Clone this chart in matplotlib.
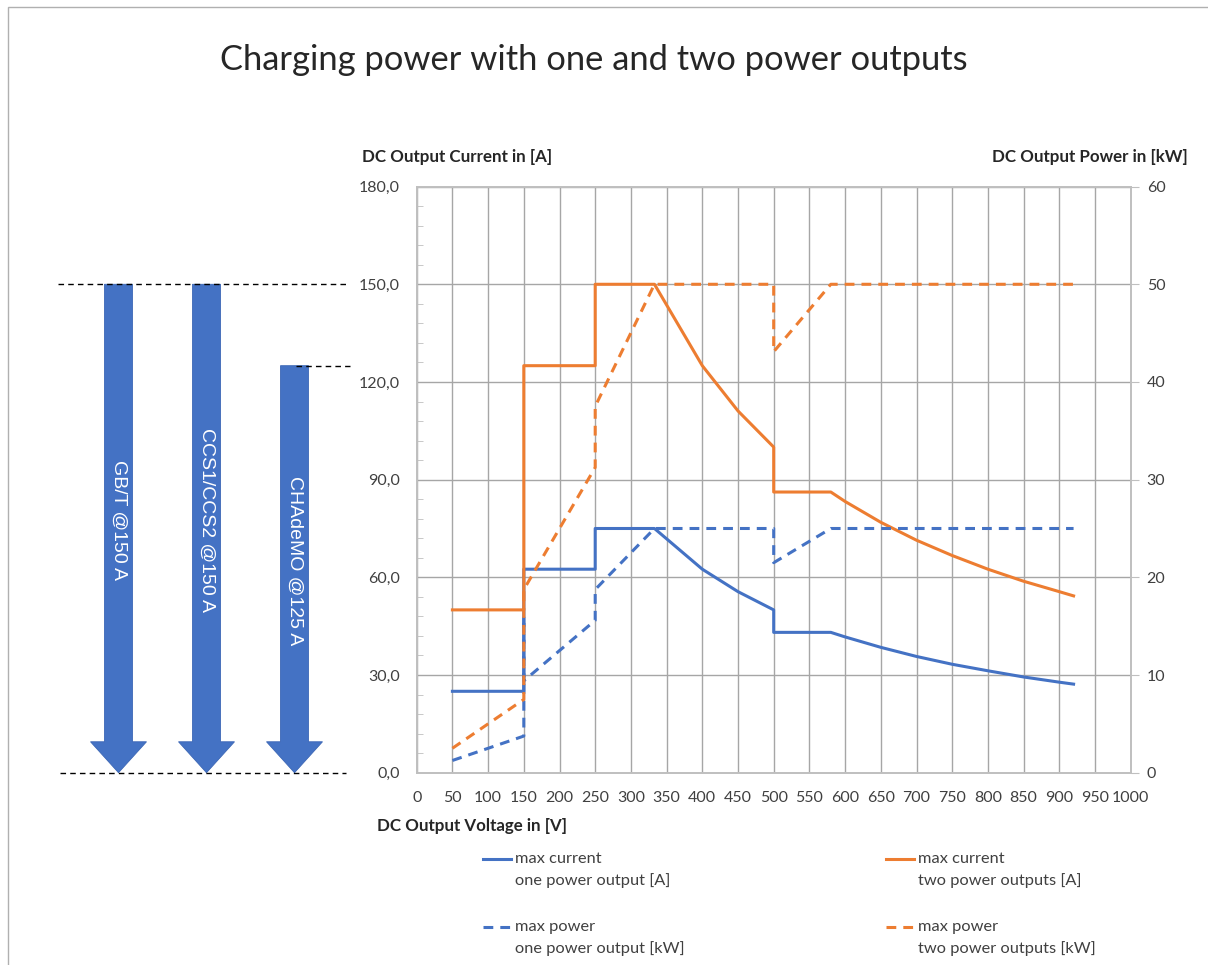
import numpy as np
import matplotlib
matplotlib.use('Agg')
import matplotlib.pyplot as plt
from matplotlib import transforms
from matplotlib.patches import Polygon, Rectangle
from matplotlib.lines import Line2D

plt.rcParams['font.family'] = ['Lato', 'DejaVu Sans']

# ---- data ----
# max current, one power output [A]
v_cur = [50, 150, 150, 250, 250, 333, 400, 450, 500, 500, 580, 600, 650, 700, 750, 800, 850, 900, 920]
i_one = [25, 25, 62.5, 62.5, 75, 75, 62.5, 55.6, 50, 43.1, 43.1, 41.7, 38.5, 35.7, 33.3, 31.3, 29.4, 27.8, 27.2]
# max current, two power outputs [A]
i_two = [50, 50, 125, 125, 150, 150, 125, 111.1, 100, 86.2, 86.2, 83.3, 76.9, 71.4, 66.7, 62.5, 58.8, 55.6, 54.3]

# max power, one power output [kW]
v_p_one = [50, 150, 150, 150, 250, 250, 333, 500, 500, 580, 920]
p_one = [1.25, 3.75, 16.0, 9.4, 15.6, 18.75, 25, 25, 21.5, 25, 25]
# max power, two power outputs [kW]
v_p_two = [50, 150, 150, 250, 250, 333, 500, 500, 580, 920]
p_two = [2.5, 7.5, 18.75, 31.25, 37.5, 50, 50, 43.1, 50, 50]

x_ticks = list(range(0, 1001, 50))
y_left_ticks = [0, 30, 60, 90, 120, 150, 180]
y_right_ticks = [0, 10, 20, 30, 40, 50, 60]

# connector standards (arrows on the left)
plugs = ['GB/T @150 A', 'CCS1/CCS2 @150 A', 'CHAdeMO @125 A']
plug_current = [150, 150, 125]

blue = '#4472C4'
orange = '#ED7D31'
txt = '#404040'

W, H = 1208, 965
def fx(x):
    return x / W
def fy(y):
    return 1 - y / H

fig = plt.figure(figsize=(W / 100, H / 100), dpi=100)

# chart border (only top/left visible)
fig.add_artist(Rectangle((fx(8), -0.05), 1.2, fy(7) + 0.05, transform=fig.transFigure,
                         fill=False, edgecolor='#b0b0b0', lw=1))

ax = fig.add_axes([fx(416.7), fy(772.7), (1130.7 - 416.7) / W, (772.7 - 186.6) / H])
ax2 = ax.twinx()

dash = (0, (3.2, 2.3))
ax.plot(v_cur, i_one, color=blue, lw=2.2, zorder=3)
ax.plot(v_cur, i_two, color=orange, lw=2.2, zorder=3)
ax2.plot(v_p_one, p_one, color=blue, lw=2.2, ls=dash)
ax2.plot(v_p_two, p_two, color=orange, lw=2.2, ls=dash)

ax.set_xlim(0, 1000)
ax.set_ylim(0, 180)
ax2.set_ylim(0, 60)

ax.set_xticks(x_ticks)
ax.set_xticklabels([str(v) for v in x_ticks])
ax.set_yticks(y_left_ticks)
ax.set_yticklabels([('%.1f' % v).replace('.', ',') for v in y_left_ticks])
ax.set_yticks(np.arange(0, 181, 6), minor=True)
ax2.set_yticks(y_right_ticks)
ax2.set_yticklabels([str(v) for v in y_right_ticks])

ax.grid(True, which='major', color='#a6a6a6', lw=1)
ax.set_axisbelow(True)
ax.tick_params(axis='x', length=0, pad=13, labelsize=11.5, labelcolor=txt)
ax.tick_params(axis='y', which='major', length=0, pad=12, labelsize=11.5, labelcolor=txt)
ax.tick_params(axis='y', which='minor', direction='in', length=4, color='#bfbfbf')
ax2.tick_params(axis='y', length=5.5, color='#bfbfbf', pad=6, labelsize=11.5, labelcolor=txt)
for a in (ax, ax2):
    for s in a.spines.values():
        s.set_color('#bfbfbf')
        s.set_linewidth(1.2)

# titles
fig.text(fx(594), fy(60), 'Charging power with one and two power outputs',
         ha='center', va='center', fontsize=24.8, color='#262626')
fig.text(fx(362), fy(157), 'DC Output Current in [A]', ha='left', va='center',
         fontsize=12.2, fontweight='bold', color='#262626')
fig.text(fx(1188), fy(157), 'DC Output Power in [kW]', ha='right', va='center',
         fontsize=12.2, fontweight='bold', color='#262626')
fig.text(fx(377), fy(826), 'DC Output Voltage in [V]', ha='left', va='center',
         fontsize=12.2, fontweight='bold', color='#262626')

# arrows for the plug standards
tr = transforms.blended_transform_factory(fig.transFigure, ax.transData)
head_a = 9.5
for k, (name, top) in enumerate(zip(plugs, plug_current)):
    cx = 118.5 + 88 * k
    l, r = fx(cx - 14), fx(cx + 14)
    hl, hr = fx(cx - 28), fx(cx + 28)
    pts = [(l, top), (r, top), (r, head_a), (hr, head_a), (fx(cx), 0), (hl, head_a), (l, head_a)]
    fig.add_artist(Polygon(pts, closed=True, transform=tr, facecolor=blue,
                           edgecolor='#3b66b5', lw=0.6))
    fig.text(fx(cx), (top + head_a) / 2 - 2, name, transform=tr, rotation=270,
             ha='center', va='center', color='white', fontsize=14,
             family=['Liberation Sans', 'DejaVu Sans'])

# dashed guide lines
fig.add_artist(Line2D([fx(58), fx(348)], [150, 150], transform=tr, color='black',
                      lw=1, ls=(0, (4, 3))))
fig.add_artist(Line2D([fx(296), fx(350)], [125, 125], transform=tr, color='black',
                      lw=1, ls=(0, (4, 3))))
fig.add_artist(Line2D([fx(60), fx(346)], [0, 0], transform=tr, color='black',
                      lw=1, ls=(0, (4, 3))))

# legend, drawn by hand in 2x2 layout
legend = [
    (483, 859, blue, '-', 'max current', 'one power output [A]'),
    (886, 859, orange, '-', 'max current', 'two power outputs [A]'),
    (483, 927, blue, dash, 'max power', 'one power output [kW]'),
    (886, 927, orange, dash, 'max power', 'two power outputs [kW]'),
]
for x0, y0, c, ls, l1, l2 in legend:
    fig.add_artist(Line2D([fx(x0), fx(x0 + 28)], [fy(y0), fy(y0)], transform=fig.transFigure,
                          color=c, lw=2.2, ls=ls))
    fig.text(fx(x0 + 32), fy(y0), l1, ha='left', va='center', fontsize=11.8, color=txt)
    fig.text(fx(x0 + 32), fy(y0 + 22), l2, ha='left', va='center', fontsize=11.8, color=txt)

plt.savefig('out.png', dpi=100)
